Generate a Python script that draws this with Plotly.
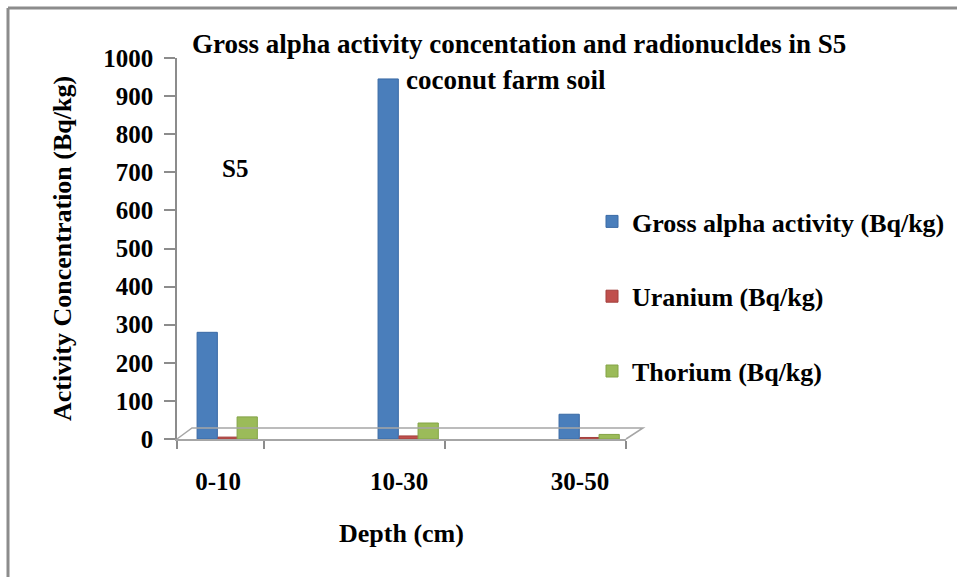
import plotly.graph_objects as go

# Depth intervals and measured activity concentrations (Bq/kg)
depths = ["0-10", "10-30", "30-50"]
gross_alpha = [280, 945, 65]
uranium = [5, 8, 4]
thorium = [58, 42, 12]
y_ticks = [0, 100, 200, 300, 400, 500, 600, 700, 800, 900, 1000]

FONT = "Liberation Serif"
positions = list(range(len(depths)))

series = [
    ("Gross alpha activity (Bq/kg)", gross_alpha, "#4a7ebb", "#3a6aa5", -0.116),
    ("Uranium (Bq/kg)", uranium, "#c0504d", "#a23f3c", 0.0),
    ("Thorium (Bq/kg)", thorium, "#9bbb59", "#84a447", 0.105),
]

fig = go.Figure()
for i, (name, vals, color, edge, off) in enumerate(series):
    fig.add_trace(go.Bar(
        x=positions, y=vals, name=f"<b>{name}</b>",
        width=0.112, offset=off,
        marker=dict(color=color, line=dict(color=edge, width=1)),
        legendgroup=f"g{i}",
        xaxis="x", yaxis="y",
    ))

# invisible trace to carry the boundary tick axis
fig.add_trace(go.Scatter(x=[0], y=[0], xaxis="x2", yaxis="y",
                         mode="markers", marker=dict(opacity=0),
                         showlegend=False, hoverinfo="skip"))

W, H = 957, 577
L, R, T, B = 177, 957 - 626, 58, 577 - 439
x_range = [-0.227, 2.254]


def px(xp, yp):
    return (xp - L) / (W - L - R), (439 - yp) / (439 - 58)


fig.update_layout(
    width=W, height=H,
    margin=dict(l=L, r=R, t=T, b=B, autoexpand=False),
    paper_bgcolor="white", plot_bgcolor="white",
    font=dict(family=FONT, color="black"),
    barmode="overlay",
    showlegend=True,
    legend=dict(
        x=px(592, 0)[0], xanchor="left",
        y=px(0, 198)[1], yanchor="top",
        font=dict(family=FONT, size=26, color="black"),
        tracegroupgap=38,
        itemwidth=30,
        bgcolor="rgba(0,0,0,0)",
    ),
    xaxis=dict(
        range=x_range, tickvals=positions,
        ticktext=[f"<b>{d}</b>" for d in depths],
        showline=False, ticks="", showgrid=False, zeroline=False,
        tickfont=dict(family=FONT, size=25, color="black"),
        ticklabelstandoff=25,
        title=dict(text="<b>Depth (cm)</b>", font=dict(family=FONT, size=26), standoff=29),
    ),
    xaxis2=dict(
        range=x_range, overlaying="x", side="bottom",
        tickvals=[-0.227, 0.254, 1.254, 2.254], ticktext=["", "", "", ""],
        ticks="outside", ticklen=8, tickcolor="#8c8c8c", tickwidth=2,
        showline=True, linecolor="#a6a6a6", linewidth=1.5,
        showgrid=False, zeroline=False,
    ),
    yaxis=dict(
        range=[0, 1000], tickvals=y_ticks,
        ticktext=[f"<b>{v}</b>" for v in y_ticks],
        ticks="outside", ticklen=11, tickcolor="#8c8c8c", tickwidth=1.5,
        showline=True, linecolor="#8c8c8c", linewidth=1.5,
        showgrid=False, zeroline=False,
        tickfont=dict(family=FONT, size=25, color="black"),
        ticklabelstandoff=6,
        title=dict(text="<b>Activity Concentration (Bq/kg)</b>",
                   font=dict(family=FONT, size=26), standoff=24),
    ),
)

# chart title (two lines) and site label
fig.add_annotation(text="<b>Gross alpha activity concentation and radionucldes in S5</b>",
                   xref="paper", yref="paper", x=px(519, 0)[0], y=px(0, 44)[1],
                   xanchor="center", yanchor="middle", showarrow=False,
                   font=dict(family=FONT, size=27, color="black"))
fig.add_annotation(text="<b>coconut farm soil</b>",
                   xref="paper", yref="paper", x=px(506, 0)[0], y=px(0, 80)[1],
                   xanchor="center", yanchor="middle", showarrow=False,
                   font=dict(family=FONT, size=27, color="black"))
fig.add_annotation(text="<b>S5</b>",
                   xref="paper", yref="paper", x=px(235, 0)[0], y=px(0, 168)[1],
                   xanchor="center", yanchor="middle", showarrow=False,
                   font=dict(family=FONT, size=25, color="black"))

# 3-D style floor outline
fx0, fy0 = px(177, 439)
fx1, fy1 = px(192, 428)
fx2, fy2 = px(643, 428)
fx3, fy3 = px(626, 439)
fig.add_shape(type="path", xref="paper", yref="paper",
              path=f"M {fx0} {fy0} L {fx1} {fy1} L {fx2} {fy2} L {fx3} {fy3}",
              line=dict(color="#a6a6a6", width=1.5))

# outer frame (top and left edges)
fig.add_shape(type="line", xref="paper", yref="paper",
              x0=px(8, 0)[0], x1=px(957, 0)[0], y0=px(0, 8)[1], y1=px(0, 8)[1],
              line=dict(color="#8c8c8c", width=3))
fig.add_shape(type="line", xref="paper", yref="paper",
              x0=px(8, 0)[0], x1=px(8, 0)[0], y0=px(0, 8)[1], y1=px(0, 577)[1],
              line=dict(color="#8c8c8c", width=3))

fig.write_html("out.html")
